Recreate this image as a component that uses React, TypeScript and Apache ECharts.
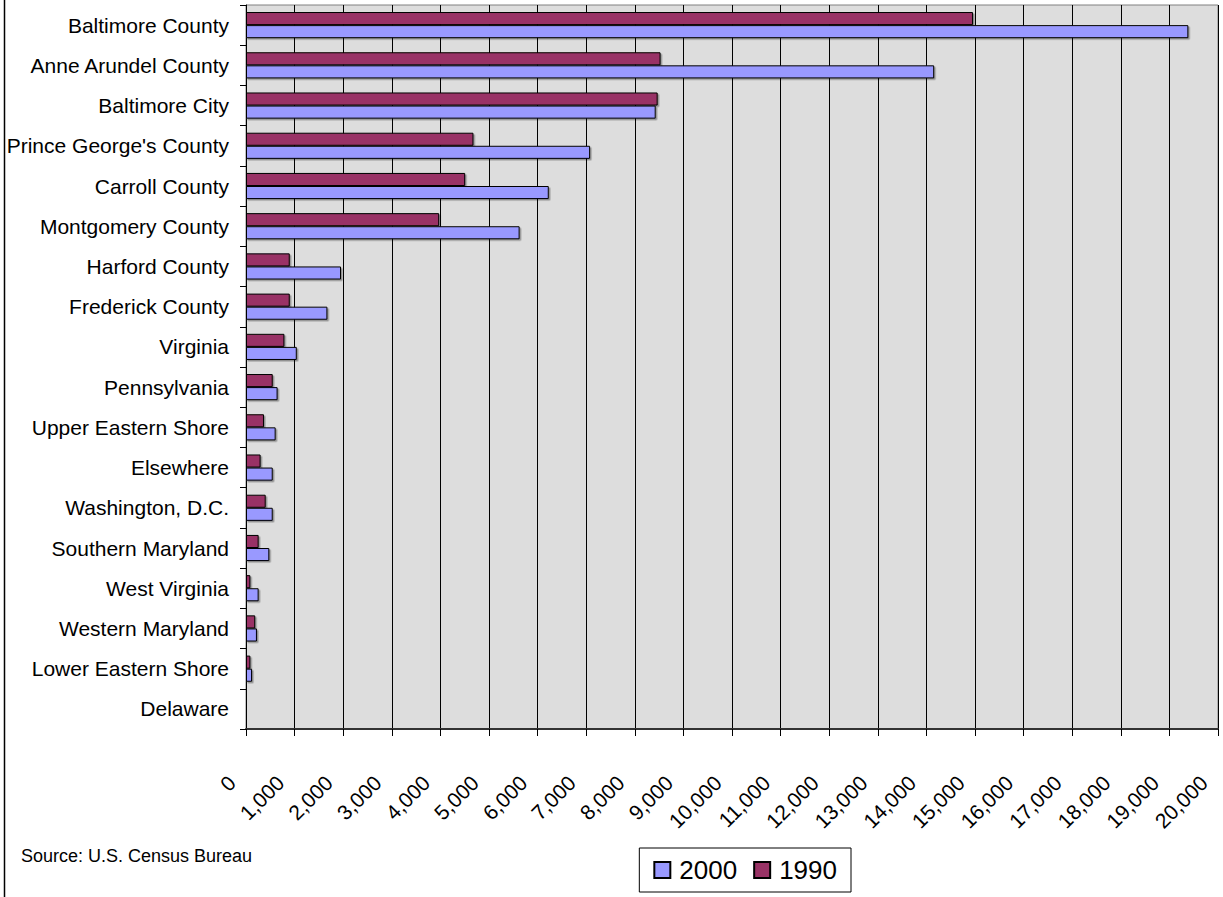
import React, { useEffect, useRef } from "react";
import * as echarts from "echarts";

const categories = [
  "Baltimore County",
  "Anne Arundel County",
  "Baltimore City",
  "Prince George's County",
  "Carroll County",
  "Montgomery County",
  "Harford County",
  "Frederick County",
  "Virginia",
  "Pennsylvania",
  "Upper Eastern Shore",
  "Elsewhere",
  "Washington, D.C.",
  "Southern Maryland",
  "West Virginia",
  "Western Maryland",
  "Lower Eastern Shore",
  "Delaware",
];

const values2000 = [19390, 14160, 8430, 7080, 6230, 5630, 1955, 1675, 1045, 650, 610, 550, 550, 480, 260, 225, 125, 0];
const values1990 = [14960, 8530, 8470, 4680, 4510, 3975, 900, 900, 790, 550, 370, 300, 405, 260, 90, 190, 90, 0];

const seriesNames = ["2000", "1990"];
const sourceNote = "Source: U.S. Census Bureau";

const FONT = "'Liberation Sans', Arial, Helvetica, sans-serif";

export default function App() {
  const ref = useRef<HTMLDivElement>(null);

  useEffect(() => {
    if (!ref.current) return;
    const chart = echarts.init(ref.current, null, { renderer: "svg" });
    const barStyle = (color: string) => ({
      color,
      borderColor: "#000000",
      borderWidth: 1,
      shadowColor: "rgba(0,0,0,0.35)",
      shadowOffsetX: 1.5,
      shadowOffsetY: 1.5,
      shadowBlur: 1,
    });
    chart.setOption({
      animation: false,
      backgroundColor: "#ffffff",
      textStyle: { fontFamily: FONT },
      grid: {
        left: 246,
        right: 5,
        top: 5,
        bottom: 168,
        show: true,
        backgroundColor: "#DDDDDD",
        borderColor: "#808080",
        borderWidth: 1,
        containLabel: false,
      },
      legend: {
        data: seriesNames,
        right: 372,
        top: 848,
        orient: "horizontal",
        backgroundColor: "#ffffff",
        borderColor: "#000000",
        borderWidth: 1,
        padding: [7, 14, 7, 14],
        itemWidth: 16,
        itemHeight: 16,
        itemGap: 16,
        textStyle: {
          fontSize: 26,
          lineHeight: 30,
          color: "#000",
          fontFamily: FONT,
          padding: [0, 0, 0, 4],
        },
        icon: "rect",
      },
      xAxis: {
        type: "value",
        min: 0,
        max: 20000,
        interval: 1000,
        axisLine: { show: true, lineStyle: { color: "#333333", width: 2 } },
        axisTick: { show: true, length: 7, lineStyle: { color: "#000" } },
        splitLine: { show: true, lineStyle: { color: "#000000", width: 1 } },
        axisLabel: {
          rotate: 45,
          fontSize: 21,
          color: "#000",
          fontFamily: FONT,
          margin: 36,
          padding: [0, 20, 0, 0],
          formatter: (v: number) => v.toLocaleString("en-US"),
        },
      },
      yAxis: {
        type: "category",
        data: categories,
        inverse: true,
        axisLine: { show: true, lineStyle: { color: "#000", width: 1 } },
        axisTick: { show: true, length: 6, lineStyle: { color: "#000" } },
        axisLabel: { fontSize: 21, color: "#000", fontFamily: FONT, margin: 17 },
        splitLine: { show: false },
      },
      series: [
        {
          name: "1990",
          type: "bar",
          data: values1990,
          barGap: "0%",
          barCategoryGap: "35%",
          itemStyle: barStyle("#993366"),
        },
        {
          name: "2000",
          type: "bar",
          data: values2000,
          barGap: "0%",
          barCategoryGap: "35%",
          itemStyle: barStyle("#9999FF"),
        },
      ],
      graphic: [
        {
          type: "line",
          shape: { x1: 4.5, y1: 0, x2: 4.5, y2: 897 },
          style: { stroke: "#000", lineWidth: 1.5 },
        },
        {
          type: "text",
          left: 21,
          top: 847,
          style: { text: sourceNote, fontSize: 18, fill: "#000", fontFamily: FONT },
        },
      ],
    });
    return () => chart.dispose();
  }, []);

  return (
    <div
      ref={ref}
      style={{ position: "fixed", left: 0, top: 0, width: 1223, height: 897 }}
    />
  );
}
